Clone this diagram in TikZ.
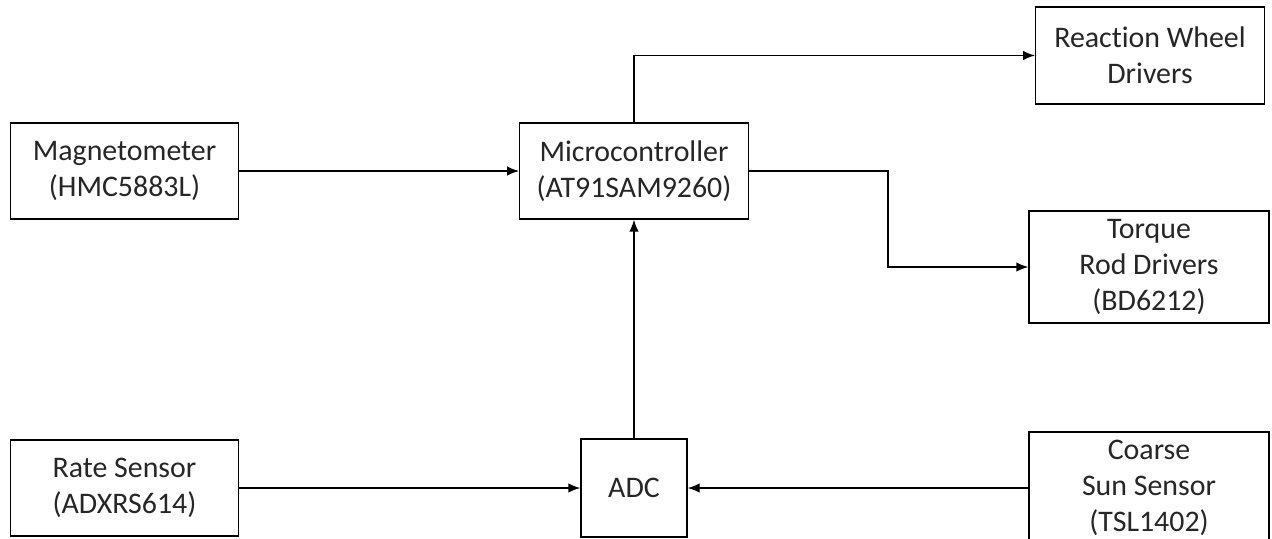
\documentclass[tikz,border=0pt]{standalone}
\usepackage{fontspec}
\setmainfont[Ligatures=NoCommon]{Carlito}
\usepackage{tikz}
\usetikzlibrary{arrows.meta}
\usepackage{xcolor}

\begin{document}
\begin{tikzpicture}[
    block/.style={draw, rectangle, align=center, font=\fontsize{17}{20.5}\selectfont, inner sep=0pt, minimum width=4.57cm, minimum height=1.92cm, line width=0.8pt, text=black!85},
    wide/.style={minimum width=4.8cm, minimum height=2.24cm},
    signal/.style={line width=0.8pt, -{Latex[length=2.4mm,width=1.9mm]}},
]
\useasboundingbox (0,0) rectangle (25.44,10.76);

% --- blocks ---
\node[block] (magnetometer) at (2.49,7.34) {Magnetometer\\(HMC5883L)};
\node[block] (micro) at (12.68,7.34) {Microcontroller\\(AT91SAM9260)};
\node[block, minimum height=1.94cm] (wheels) at (23.0,9.65) {Reaction Wheel\\Drivers};
\node[block, wide] (torque) at (22.98,5.42) {Torque\\Rod Drivers\\(BD6212)};
\node[block] (rate) at (2.49,1.0) {Rate Sensor\\(ADXRS614)};
\node[block, minimum width=2.12cm, minimum height=1.96cm] (adc) at (12.68,1.0) {ADC};
\node[block, wide] (sunsensor) at (22.98,1.0) {Coarse\\Sun Sensor\\(TSL1402)};

\coordinate (bend) at (17.76,7.34);

% --- signals ---
\draw[signal] (magnetometer) -- (micro);
\draw[signal] (rate) -- (adc);
\draw[signal] (sunsensor) -- (adc);
\draw[signal] (adc) -- (micro);
\draw[signal] (micro.north) |- (wheels);
\draw[signal] (micro.east) -- (bend) |- (torque);
\end{tikzpicture}
\end{document}
